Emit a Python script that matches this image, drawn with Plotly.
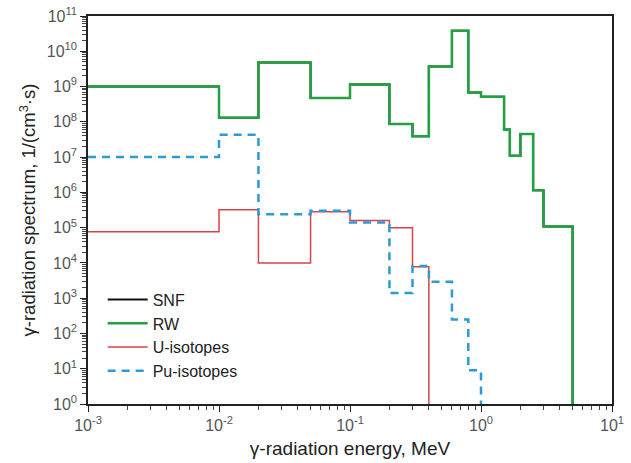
import plotly.graph_objects as go
import numpy as np

# bin edges (MeV) and per-bin spectrum values, 1/(cm^3 s)
rw_edges = [0.001, 0.01, 0.02, 0.05, 0.1, 0.2, 0.3, 0.4, 0.6, 0.8, 1.0, 1.5, 1.66, 2.0, 2.5, 3.0, 5.0]
rw_vals = [1.0e9, 1.3e8, 4.8e9, 4.7e8, 1.15e9, 8.7e7, 3.9e7, 3.7e9, 3.8e10, 6.8e8, 5.1e8, 6.1e7, 1.1e7, 4.5e7, 1.15e6, 1.07e5]

snf_edges = rw_edges
snf_vals = rw_vals

u_edges = [0.001, 0.01, 0.02, 0.05, 0.1, 0.2, 0.3, 0.4]
u_vals = [7.7e4, 3.2e5, 1.0e4, 2.8e5, 1.6e5, 1.0e5, 7.8e3]

pu_edges = [0.001, 0.01, 0.02, 0.05, 0.1, 0.2, 0.3, 0.4, 0.6, 0.8, 1.0]
pu_vals = [1.0e7, 4.3e7, 2.4e5, 3.0e5, 1.4e5, 1.4e3, 8.2e3, 2.9e3, 2.5e2, 9.0]

x_ticks = [-3, -2, -1, 0, 1]
y_ticks = list(range(0, 12))

FONT = "Liberation Sans, Arial, sans-serif"


def step_xy(edges, vals, floor=1.0):
    return list(edges), list(vals) + [floor]


fig = go.Figure()
series = [
    ("SNF", snf_edges, snf_vals, dict(color="#111111", width=2)),
    ("RW", rw_edges, rw_vals, dict(color="#23a040", width=2.5)),
    ("U-isotopes", u_edges, u_vals, dict(color="#d9434b", width=1.5)),
    ("Pu-isotopes", pu_edges, pu_vals, dict(color="#2b9ad6", width=2.5, dash="8px,6px")),
]
for name, e, v, ln in series:
    x, y = step_xy(e, v)
    fig.add_trace(go.Scatter(x=x, y=y, mode="lines", line_shape="hv", name=name, line=ln))

minor_x = [m * 10.0 ** d for d in range(-3, 1) for m in range(2, 10)]
minor_y = [m * 10.0 ** d for d in range(0, 11) for m in range(2, 10)]

fig.update_xaxes(
    type="log", range=[-3, 1], automargin=False,
    tickvals=[10.0 ** k for k in x_ticks],
    ticktext=[f"10<sup>{k}</sup>" for k in x_ticks],
    ticks="outside", ticklen=6, tickwidth=1.2, tickcolor="#222",
    minor=dict(tickvals=minor_x, ticks="outside", ticklen=4, tickwidth=1, tickcolor="#444"),
    showline=True, linecolor="#222", linewidth=1.5, mirror=True,
    showgrid=False, zeroline=False,
    tickfont=dict(family=FONT, size=16, color="#555"),
    title=dict(text="γ-radiation energy, MeV", font=dict(family=FONT, size=19, color="#222"), standoff=9),
)
fig.update_yaxes(
    type="log", range=[0, 11], automargin=False,
    tickvals=[10.0 ** k for k in y_ticks],
    ticktext=[f"10<sup>{k}</sup>" for k in y_ticks],
    ticks="outside", ticklen=6, tickwidth=1.2, tickcolor="#222",
    minor=dict(tickvals=minor_y, ticks="outside", ticklen=4, tickwidth=1, tickcolor="#444"),
    showline=True, linecolor="#222", linewidth=1.5, mirror=True,
    showgrid=False, zeroline=False,
    tickfont=dict(family=FONT, size=16, color="#555"),
    title=dict(text="γ-radiation spectrum, 1/(cm<sup>3</sup>·s)", font=dict(family=FONT, size=18.5, color="#222"), standoff=6),
)
fig.update_layout(
    width=631, height=463,
    margin=dict(l=88, r=19, t=16, b=59),
    paper_bgcolor="white", plot_bgcolor="white",
    font=dict(family=FONT),
    showlegend=True,
    legend=dict(x=0.028, y=0.313, xanchor="left", yanchor="top",
                bgcolor="rgba(0,0,0,0)", font=dict(family=FONT, size=16, color="#222"),
                tracegroupgap=0, itemwidth=40),
)
fig.write_html("out.html")
